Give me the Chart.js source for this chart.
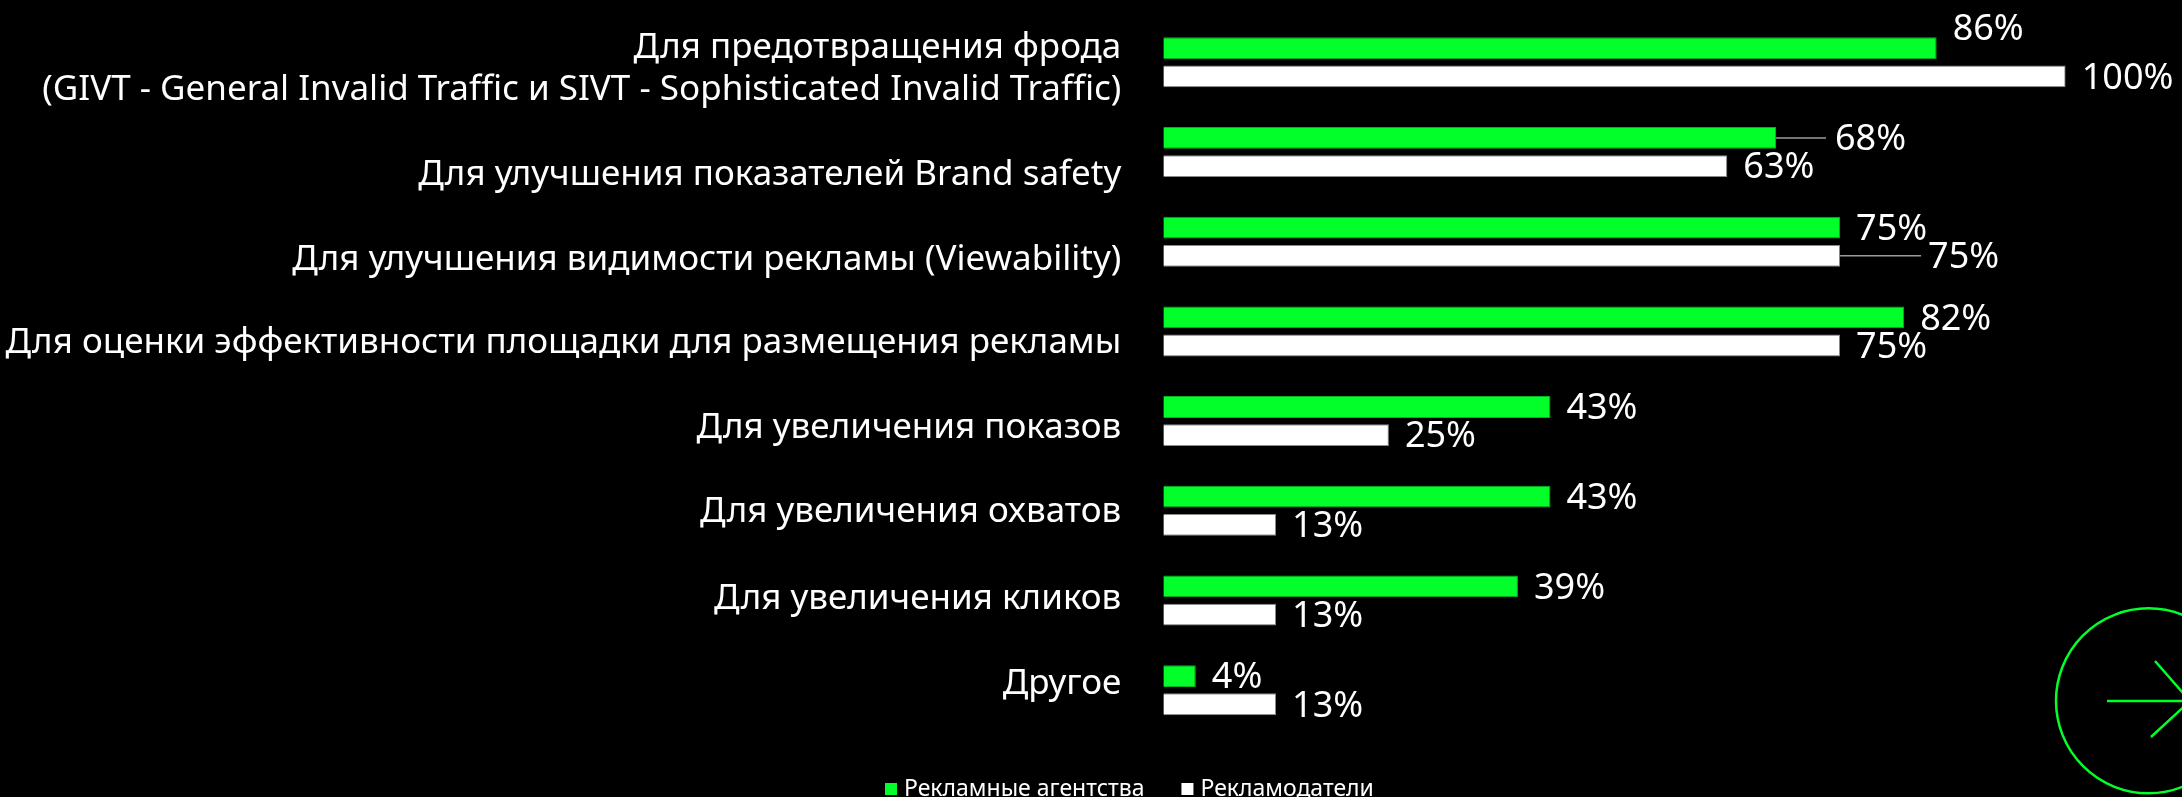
<!DOCTYPE html>
<html><head><meta charset="utf-8">
<script src="https://cdn.jsdelivr.net/npm/chart.js@4.4.1/dist/chart.umd.min.js"></script>
<style>html,body{margin:0;padding:0;background:#000;overflow:hidden}
#wrap{position:relative;width:2182px;height:797px}</style></head>
<body><div id="wrap"><canvas id="c" width="2182" height="797"></canvas></div>
<script>
const categories = [
  ['Для предотвращения фрода', '(GIVT - General Invalid Traffic и SIVT - Sophisticated Invalid Traffic)'],
  'Для улучшения показателей Brand safety',
  'Для улучшения видимости рекламы (Viewability)',
  'Для оценки эффективности площадки для размещения рекламы',
  'Для увеличения показов',
  'Для увеличения охватов',
  'Для увеличения кликов',
  'Другое'
];
const seriesNames = ['Рекламные агентства', 'Рекламодатели'];
const agencies = [85.7, 67.9, 75, 82.1, 42.9, 42.9, 39.3, 3.6];
const advertisers = [100, 62.5, 75, 75, 25, 12.5, 12.5, 12.5];
const axisRange = [0, 100];

const GREEN = '#03FF2A';
const FONT = '"Noto Sans", sans-serif';
// style: vertical shift of each category label relative to its band centre (px)
const categoryLabelShift = [7, 23, 18, 12, 7, 1, -1, -6];
// label placement tweaks (style, keyed dataset-index)
const labelAdjust = {
  '0-0': { dy: -20 },
  '0-1': { leader: 50, dx: 59 },
  '1-2': { leader: 81, dx: 88 }
};

const categoryLabels = {
  id: 'categoryLabels',
  afterDraw(chart) {
    const ctx = chart.ctx;
    const ys = chart.scales.y;
    ctx.save();
    ctx.font = '35px ' + FONT;
    ctx.fillStyle = '#fff';
    ctx.textAlign = 'right';
    ctx.textBaseline = 'middle';
    const x = chart.chartArea.left - 42;
    chart.data.labels.forEach((lab, i) => {
      const lines = Array.isArray(lab) ? lab : [lab];
      const lh = 42;
      const yc = ys.getPixelForValue(i) + categoryLabelShift[i];
      lines.forEach((ln, k) => {
        ctx.fillText(ln, x, yc + (k - (lines.length - 1) / 2) * lh);
      });
    });
    ctx.restore();
  }
};

const valueLabels = {
  id: 'valueLabels',
  afterDatasetsDraw(chart) {
    const ctx = chart.ctx;
    ctx.save();
    ctx.font = '36px ' + FONT;
    ctx.textBaseline = 'middle';
    ctx.textAlign = 'left';
    chart.data.datasets.forEach((ds, di) => {
      chart.getDatasetMeta(di).data.forEach((bar, i) => {
        const adj = labelAdjust[di + '-' + i] || {};
        if (adj.leader) {
          ctx.strokeStyle = '#9b9b9b';
          ctx.lineWidth = 1.5;
          ctx.beginPath();
          ctx.moveTo(bar.x, bar.y);
          ctx.lineTo(bar.x + adj.leader, bar.y);
          ctx.stroke();
        }
        ctx.fillStyle = '#fff';
        ctx.fillText(Math.round(ds.data[i]) + '%', bar.x + (adj.dx ?? 16), bar.y + 2 + (adj.dy || 0));
      });
    });
    ctx.restore();
  }
};

const customLegend = {
  id: 'customLegend',
  afterDraw(chart) {
    const ctx = chart.ctx;
    ctx.save();
    ctx.font = '23px ' + FONT;
    ctx.textBaseline = 'middle';
    let x = 885;
    const y = 789;
    chart.data.datasets.forEach(ds => {
      ctx.fillStyle = ds.backgroundColor;
      ctx.fillRect(x, y - 6, 12, 12);
      ctx.fillStyle = '#fff';
      ctx.fillText(ds.label, x + 19, y);
      x += 19 + ctx.measureText(ds.label).width + 37;
    });
    ctx.restore();
  }
};

const decoration = {
  id: 'decoration',
  afterDraw(chart) {
    const ctx = chart.ctx;
    ctx.save();
    ctx.strokeStyle = GREEN;
    ctx.lineWidth = 2.5;
    ctx.beginPath();
    ctx.arc(2148.5, 700.8, 92.5, 0, Math.PI * 2);
    ctx.stroke();
    ctx.beginPath();
    ctx.moveTo(2107, 701); ctx.lineTo(2190, 701);
    ctx.moveTo(2155, 661); ctx.lineTo(2190, 701); ctx.lineTo(2151, 737);
    ctx.stroke();
    ctx.restore();
  }
};

new Chart(document.getElementById('c'), {
  type: 'bar',
  data: {
    labels: categories,
    datasets: [
      { label: seriesNames[0], data: agencies, backgroundColor: GREEN, borderColor: '#00b51e', borderWidth: 1 },
      { label: seriesNames[1], data: advertisers, backgroundColor: '#ffffff', borderColor: '#8a8a8a', borderWidth: 1 }
    ]
  },
  options: {
    indexAxis: 'y',
    responsive: false,
    animation: false,
    devicePixelRatio: 1,
    categoryPercentage: 0.629,
    barPercentage: 0.773,
    layout: { padding: { left: 0, right: 116.3, top: 17.5, bottom: 62 } },
    scales: {
      x: { display: false, min: axisRange[0], max: axisRange[1] },
      y: {
        grid: { display: false, drawTicks: false },
        border: { display: false },
        ticks: { display: false },
        afterFit(scale) { scale.width = 1163.3; scale.paddingTop = 0; scale.paddingBottom = 0; }
      }
    },
    plugins: { legend: { display: false }, tooltip: { enabled: false } }
  },
  plugins: [categoryLabels, valueLabels, customLegend, decoration, {
    id: 'bg', beforeDraw(c) { c.ctx.save(); c.ctx.fillStyle = '#000'; c.ctx.fillRect(0, 0, c.width, c.height); c.ctx.restore(); }
  }]
});
</script></body></html>
